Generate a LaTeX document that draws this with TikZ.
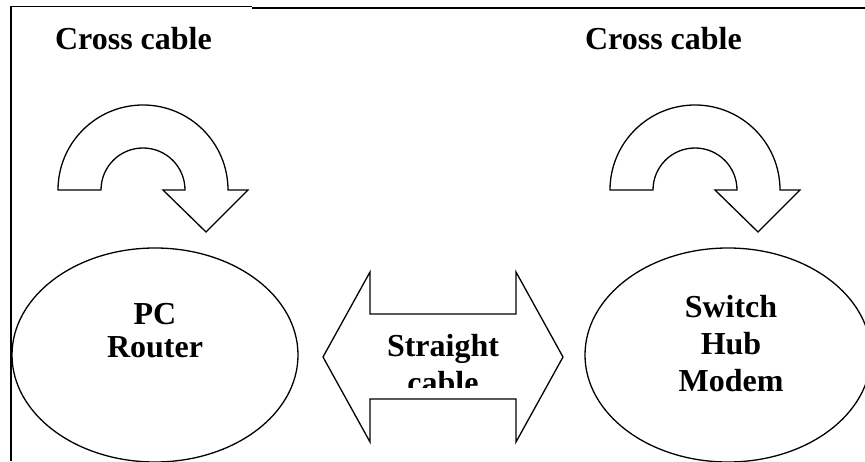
\documentclass[tikz,border=0pt]{standalone}
\usepackage{fontspec}
\setmainfont{Liberation Serif}
\usetikzlibrary{shapes.geometric}
\tikzset{
  rotulo/.style={font=\bfseries\fontsize{32}{37}\selectfont, inner sep=0pt, align=center},
  equipo/.style={ellipse, draw, minimum width=286pt, minimum height=214pt, inner sep=0pt}
}
\begin{document}
\begin{tikzpicture}[x=1pt, y=1pt, line width=1.3pt, line join=miter]
  \useasboundingbox (0,0) rectangle (865,461);
  % el marco
  \draw[line width=1pt] (10,454) -- (252,454);
  \draw[line width=2.4pt] (252,453) -- (865,453);
  \draw[line width=2pt] (11,454) -- (11,0);
  % los rotulos de arriba
  \node[rotulo, anchor=base] (crossizq) at (133.5,411) {Cross cable};
  \node[rotulo, anchor=base] (crossder) at (663.5,411) {Cross cable};
  % las flechas curvas
  \foreach \cx in {143,695} {
    \filldraw[fill=white] (\cx-85,271) arc[start angle=180, end angle=0, radius=85]
      -- ++(20,0) -- ++(-42,-42) -- ++(-43,42) -- ++(22,0)
      arc[start angle=0, end angle=180, radius=42] -- cycle;
  }
  % los equipos
  \node[equipo] (izq) at (155,106) {};
  \node[equipo] (der) at (728,106) {};
  \node[rotulo, anchor=north, font=\bfseries\fontsize{32}{32.5}\selectfont] (pc) at (155,158) {PC\\Router};
  \node[rotulo, anchor=north] (switch) at (731,166) {Switch\\Hub\\Modem};
  % la flecha doble
  \draw (323,104) -- (370,189) -- (370,147) -- (516,147) -- (516,189) -- (563,104)
    -- (516,19) -- (516,62) -- (370,62) -- (370,19) -- cycle;
  \begin{scope}
    \clip (372,74) rectangle (514,146);
    \node[rotulo, anchor=north] (recto) at (443,127) {Straight\\cable};
  \end{scope}
\end{tikzpicture}
\end{document}
